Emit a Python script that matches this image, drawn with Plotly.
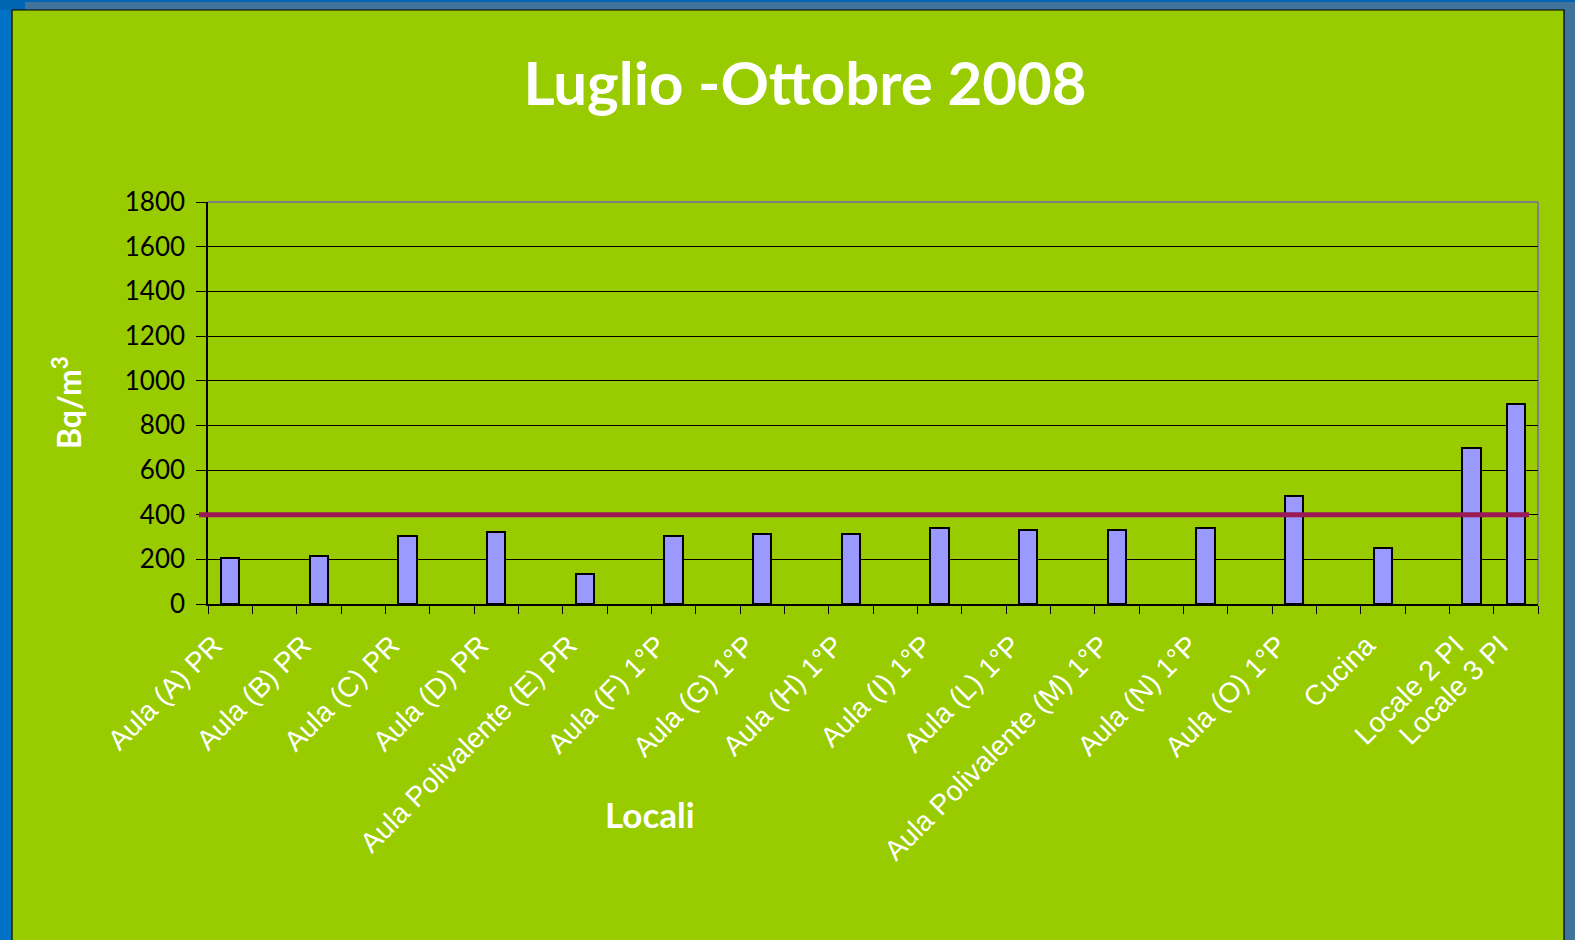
import plotly.graph_objects as go

categories = ["Aula (A) PR", "Aula (B) PR", "Aula (C) PR", "Aula (D) PR",
              "Aula Polivalente (E) PR", "Aula (F) 1°P", "Aula (G) 1°P",
              "Aula (H) 1°P", "Aula (I) 1°P", "Aula (L) 1°P",
              "Aula Polivalente (M) 1°P", "Aula (N) 1°P", "Aula (O) 1°P",
              "Cucina", "Locale 2 PI", "Locale 3 PI"]
values = [204, 213, 303, 321, 133, 303, 313, 313, 339, 330, 330, 339, 482, 249, 697, 894]
limit_value = 400
y_ticks = [0, 200, 400, 600, 800, 1000, 1200, 1400, 1600, 1800]

title_text = "Luglio -Ottobre 2008"
y_title = "Bq/m<sup>3</sup>"
x_title = "Locali"

# category slots: an empty slot follows each location except the last two
slots = []
for i, c in enumerate(categories):
    slots.append(c)
    if i < len(categories) - 2:
        slots.append(" " * (i + 1))

W, H = 1575, 940
L, R, T, B = 208, 1538, 202, 604
pw, ph = R - L, B - T

def px(x):
    return (x - L) / pw

def py(y):
    return (B - y) / ph

GREEN = "#99CC00"
GOTHIC = "Lato, 'DejaVu Sans', sans-serif"

fig = go.Figure()
fig.add_trace(go.Bar(
    x=categories, y=values, width=0.41,
    marker=dict(color="#9999FF", line=dict(color="black", width=2)),
    showlegend=False,
))

shapes = [
    # backgrounds
    dict(type="rect", xref="paper", yref="paper", x0=px(0), x1=px(12), y0=py(0), y1=py(H + 5),
         fillcolor="#0072C6", line=dict(width=0), layer="below"),
    dict(type="rect", xref="paper", yref="paper", x0=px(0), x1=px(W), y0=py(0), y1=py(2),
         fillcolor="#0066B3", line=dict(width=0), layer="below"),
    dict(type="rect", xref="paper", yref="paper", x0=px(0), x1=px(25), y0=py(0), y1=py(10),
         fillcolor="#0066B3", line=dict(width=0), layer="below"),
    dict(type="rect", xref="paper", yref="paper", x0=px(12), x1=px(1564), y0=py(10), y1=py(H + 5),
         fillcolor=GREEN, line=dict(color="black", width=1.2), layer="below"),
    # plot area border top/right
    dict(type="line", xref="paper", yref="paper", x0=0, x1=1, y0=1, y1=1,
         line=dict(color="#808080", width=2), layer="below"),
    dict(type="line", xref="paper", yref="paper", x0=1, x1=1, y0=0, y1=1,
         line=dict(color="#808080", width=2), layer="below"),
    # limit line
    dict(type="line", xref="paper", yref="y", x0=px(199), x1=px(1529), y0=limit_value, y1=limit_value,
         line=dict(color="#9A1A55", width=5), layer="above"),
]

fig.update_layout(
    width=W, height=H,
    margin=dict(l=L, r=W - R, t=T, b=H - B, pad=0),
    paper_bgcolor="#3F7399",
    plot_bgcolor=GREEN,
    shapes=shapes,
    bargap=0,
    title=dict(text="<b>" + title_text + "</b>", x=805 / W, y=1 - 84 / H,
               xref="container", yref="container", xanchor="center", yanchor="middle",
               font=dict(family=GOTHIC, size=60, color="white")),
    xaxis=dict(
        type="category", categoryorder="array", categoryarray=slots,
        range=[-0.5, len(slots) - 0.5],
        tickson="boundaries", ticks="outside", ticklen=8, tickcolor="black", tickwidth=1.2,
        tickangle=-45, ticklabelshift=-16, ticklabelstandoff=12,
        tickfont=dict(family="'Liberation Sans', Arial, sans-serif", size=28, color="white"),
        showline=True, linecolor="black", linewidth=1.5,
        showgrid=False, zeroline=False, fixedrange=True,
    ),
    yaxis=dict(
        range=[0, 1800], tickvals=y_ticks, ticks="outside", ticklen=10,
        tickcolor="black", tickwidth=1.2,
        tickfont=dict(family=GOTHIC, size=26, color="black"),
        showline=True, linecolor="black", linewidth=1.5,
        showgrid=True, gridcolor="black", gridwidth=1.2,
        zeroline=False, fixedrange=True, ticklabelstandoff=6,
    ),
    annotations=[
        dict(text="<b>" + y_title + "</b>", xref="paper", yref="paper",
             x=px(67), y=py(403), textangle=-90, showarrow=False,
             xanchor="center", yanchor="middle",
             font=dict(family=GOTHIC, size=32, color="white")),
        dict(text="<b>" + x_title + "</b>", xref="paper", yref="paper",
             x=px(650), y=py(814), showarrow=False,
             xanchor="center", yanchor="middle",
             font=dict(family=GOTHIC, size=35, color="white")),
    ],
)

fig.write_html(
    "out.html",
    config={"displayModeBar": False},
    post_script="document.body.style.margin='0';document.body.style.padding='0';"
                "document.body.style.overflow='hidden';",
)
